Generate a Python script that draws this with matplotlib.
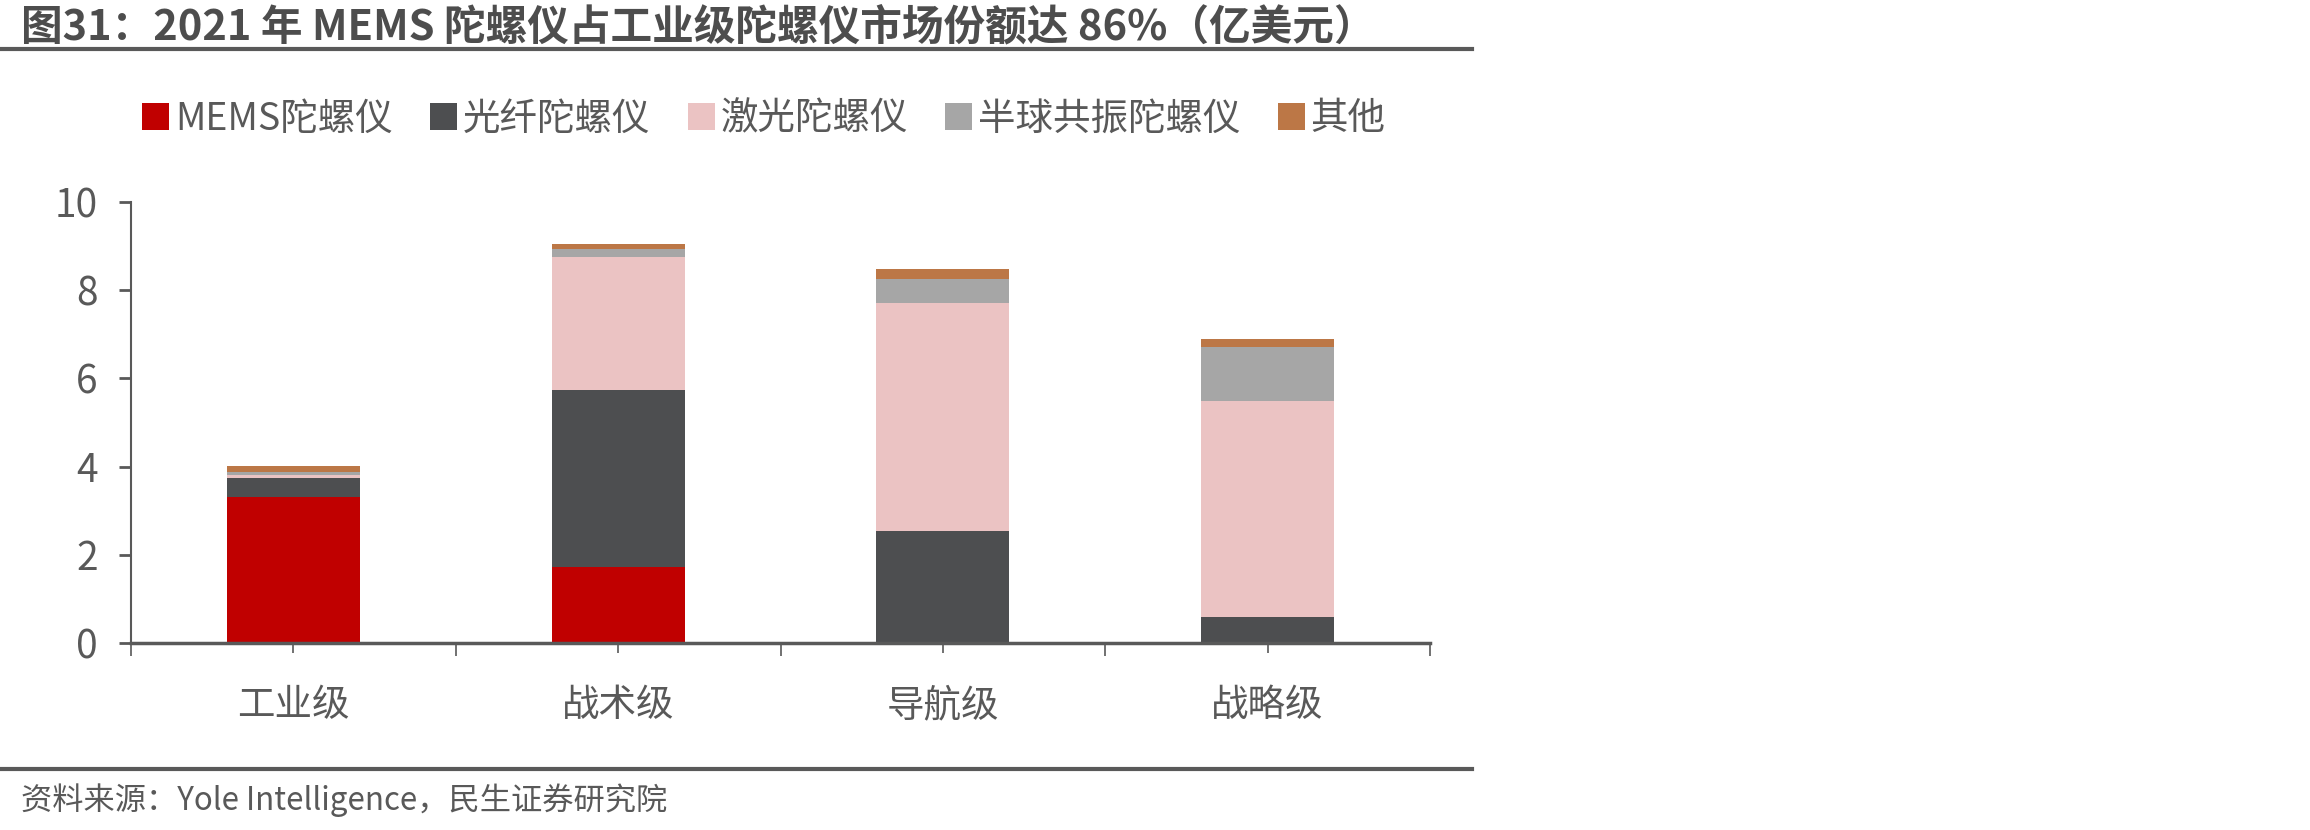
import numpy as np
import matplotlib.pyplot as plt
from matplotlib.lines import Line2D

plt.rcParams['font.family'] = ['Noto Sans CJK SC', 'DejaVu Sans']

categories = ['工业级', '战术级', '导航级', '战略级']
series_names = ['MEMS陀螺仪', '光纤陀螺仪', '激光陀螺仪', '半球共振陀螺仪', '其他']
mems = [3.31, 1.72, 0.0, 0.0]
fiber = [0.43, 4.02, 2.54, 0.60]
laser = [0.08, 3.01, 5.17, 4.89]
hrg = [0.06, 0.18, 0.54, 1.22]
other = [0.14, 0.12, 0.23, 0.18]
colors = ['#C00000', '#4D4E50', '#EBC3C3', '#A6A6A6', '#BC7746']

title = '图31：2021 年 MEMS 陀螺仪占工业级陀螺仪市场份额达 86%（亿美元）'
source = '资料来源：Yole Intelligence，民生证券研究院'

W, H = 2310, 830
fig = plt.figure(figsize=(W / 100, H / 100), dpi=100)
ax = fig.add_axes([131 / W, 1 - 643 / H, (1430 - 131) / W, (643 - 202) / H])

text_color = '#595959'
x = np.arange(len(categories))
bottom = np.zeros(len(categories))
handles = []
for vals, name, c in zip([mems, fiber, laser, hrg, other], series_names, colors):
    b = ax.bar(x, vals, width=0.41, bottom=bottom, color=c, label=name, zorder=2)
    handles.append(b)
    bottom += np.array(vals)

ax.set_xlim(-0.5, 3.5)
ax.set_ylim(0, 10)
ax.set_yticks([0, 2, 4, 6, 8, 10])
ax.set_xticks(x)
ax.set_xticklabels(categories)
ax.set_xticks(np.arange(-0.5, 4, 1), minor=True)
for s in ['top', 'right']:
    ax.spines[s].set_visible(False)
ax.spines['bottom'].set_color(text_color)
ax.spines['bottom'].set_linewidth(2.5)
ax.spines['left'].set_color(text_color)
ax.spines['left'].set_linewidth(1.5)
ax.spines['bottom'].set_zorder(3)
ax.tick_params(axis='x', which='major', length=7, width=1.2, color=text_color,
               labelsize=27, labelcolor=text_color, pad=24)
ax.tick_params(axis='x', which='minor', length=9.5, width=1.2, color=text_color)
ax.tick_params(axis='y', length=9, width=2, color=text_color,
               labelsize=28, labelcolor=text_color, pad=15)

fig.legend(handles=handles, loc='center', bbox_to_anchor=(764 / W, 1 - 119 / H),
           ncol=5, frameon=False, fontsize=27, labelcolor=text_color,
           handlelength=0.72, handleheight=0.72, handletextpad=0.15, columnspacing=1.0)

fig.text(21 / W, 1 - 27 / H, title, fontsize=30, fontweight='bold', color='#4D4D4D',
         ha='left', va='center')
fig.add_artist(Line2D([0, 1472 / W], [1 - 49 / H, 1 - 49 / H], color='#595959', lw=3))
fig.add_artist(Line2D([0, 1472 / W], [1 - 769 / H, 1 - 769 / H], color='#595959', lw=3))
fig.text(21 / W, 1 - 800 / H, source, fontsize=22.5, color=text_color, ha='left', va='center')

fig.savefig('out.png', dpi=100)
